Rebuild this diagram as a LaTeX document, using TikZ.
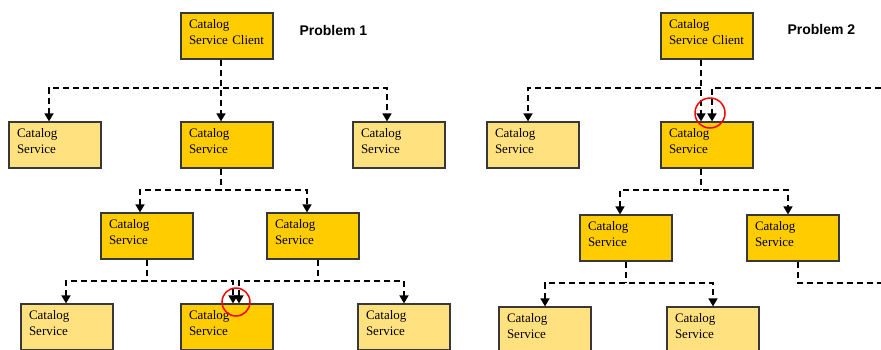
\documentclass[tikz,border=0pt]{standalone}
\usepackage{fontspec}
\setmainfont{Liberation Serif}
\newfontfamily\headfont{Liberation Sans}
\usetikzlibrary{arrows.meta}
\definecolor{gold}{HTML}{FFCC00}
\definecolor{pale}{HTML}{FFE27F}

\begin{document}
\begin{tikzpicture}[x=1pt, y=-1pt,
    svc/.style={draw=black!78, line width=1.2pt, fill=#1, minimum width=92pt, minimum height=46pt,
      text width=76pt, text depth=25pt, inner xsep=8pt, inner ysep=0pt, align=left, font=\fontsize{13}{16}\selectfont},
    svc/.default=gold,
    link/.style={line width=1.6pt, dash pattern=on 6pt off 4pt},
    >={Triangle[length=8pt,width=9pt]},
    title/.style={font=\headfont\bfseries\fontsize{14}{16}\selectfont, anchor=west}]
          \clip (0,0) rectangle (881,349);
          \fill[white] (0,0) rectangle (881,349);

          % Problem 1
          \node[svc] (c1) at (227,36) {Catalog\\Service Client};
          \node[title] (p1) at (296,30) {Problem 1};

          \node[svc=pale] (a1) at (55,145) {Catalog\\Service};
          \node[svc] (a2) at (227,145) {Catalog\\Service};
          \node[svc=pale] (a3) at (399,145) {Catalog\\Service};

          \node[svc] (b1) at (147,236) {Catalog\\Service};
          \node[svc] (b2) at (313,236) {Catalog\\Service};

          \node[svc=pale] (d1) at (67,327) {Catalog\\Service};
          \node[svc] (d2) at (227,327) {Catalog\\Service};
          \node[svc=pale] (d3) at (404,327) {Catalog\\Service};

          \coordinate (j1) at (221,88);
          \coordinate (j2) at (221,190);
          \coordinate (j3) at (147,281);
          \coordinate (j4) at (318,281);

          \draw[link,->] ([xshift=-6pt]c1.south) -- ([xshift=-6pt]a2.north);
          \draw[link,<->] ([xshift=-6pt]a1.north) |- (j1) -| ([xshift=-12pt]a3.north);
          \draw[link] ([xshift=-6pt]a2.south) -- (j2);
          \draw[link,<->] ([xshift=-7pt]b1.north) |- (j2) -| ([xshift=-6pt]b2.north);
          \draw[link] (b1.south) -- (j3);
          \draw[link,<->] ([xshift=-1pt]d1.north) |- (j3) -| ([xshift=6pt]d2.north);
          \draw[link] ([xshift=5pt]b2.south) -- (j4);
          \draw[link,<->] ([xshift=12pt]d2.north) |- (j4) -| (d3.north);

          \draw[red, line width=1.5pt] (236,302) circle (14pt);

          % Problem 2
          \node[svc] (c2) at (707,36) {Catalog\\Service Client};
          \node[title] (p2) at (784,29) {Problem 2};

          \node[svc=pale] (e1) at (533,145) {Catalog\\Service};
          \node[svc] (e2) at (707,145) {Catalog\\Service};

          \node[svc] (f1) at (626,238) {Catalog\\Service};
          \node[svc] (f2) at (793,238) {Catalog\\Service};

          \node[svc=pale] (g1) at (545,330) {Catalog\\Service};
          \node[svc=pale] (g2) at (713,330) {Catalog\\Service};

          \coordinate (k1) at (701,88);
          \coordinate (k0) at (881,88);
          \coordinate (k2) at (701,190);
          \coordinate (k3) at (626,283);
          \coordinate (k5) at (881,283);

          \draw[link,->] ([xshift=-6pt]c2.south) -- ([xshift=-6pt]e2.north);
          \draw[link,->] (k1) -| ([xshift=-5pt]e1.north);
          \draw[link,->] (k0) -| ([xshift=5pt]e2.north);
          \draw[link] ([xshift=-6pt]e2.south) -- (k2);
          \draw[link,<->] ([xshift=-6pt]f1.north) |- (k2) -| ([xshift=-5pt]f2.north);
          \draw[link] (f1.south) -- (k3);
          \draw[link,<->] (g1.north) |- (k3) -| (g2.north);
          \draw[link] ([xshift=5pt]f2.south) |- (k5);

          \draw[red, line width=1.5pt] (710,113) circle (15pt);
        \end{tikzpicture}
\end{document}
